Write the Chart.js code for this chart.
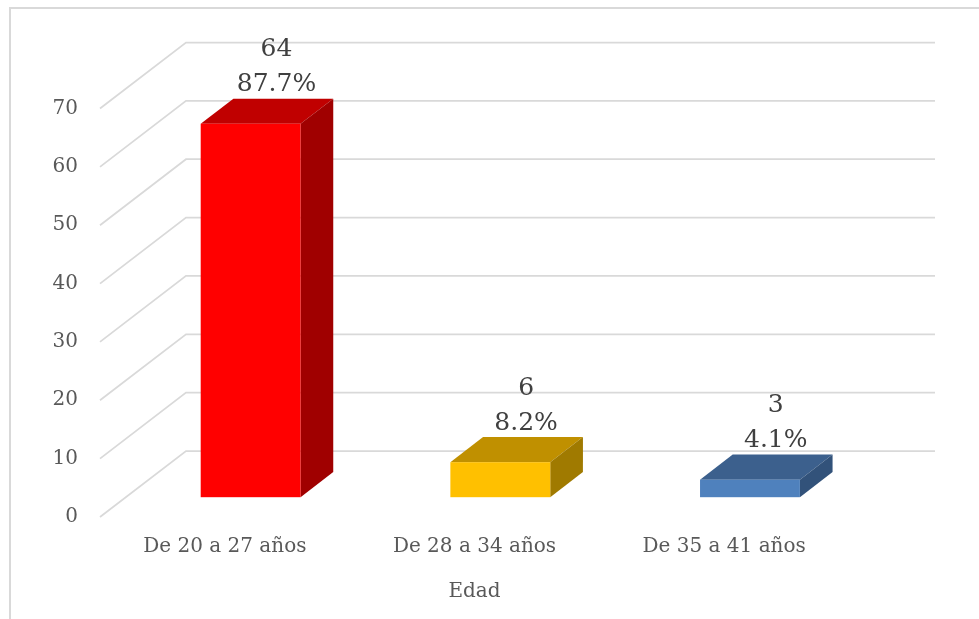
<!DOCTYPE html>
<html lang="es">
<head>
<meta charset="utf-8">
<title>Edad</title>
<script src="https://cdn.jsdelivr.net/npm/chart.js@4.4.1/dist/chart.umd.min.js"></script>
<style>
    html, body { margin: 0; padding: 0; background: #fff; }
    #wrap { width: 979px; height: 619px; position: relative; }
</style>
</head>
<body>
<div id="wrap"><canvas id="edadChart"></canvas></div>
<script>
// Chart data
const categories = ['De 20 a 27 años', 'De 28 a 34 años', 'De 35 a 41 años'];
const counts = [64, 6, 3];
const percentLabels = ['87.7%', '8.2%', '4.1%'];
const yTicks = [0, 10, 20, 30, 40, 50, 60, 70];

// Colours per bar face
const frontColors = ['#FF0000', '#FFC000', '#4F81BD'];
const topColors = ['#C00000', '#C09000', '#3C608D'];
const sideColors = ['#A00000', '#A07A00', '#32527A'];

const FONT = '"DejaVu Serif", "Liberation Serif", serif';
const GRID_COLOR = '#D9D9D9';

// Oblique depth of the 3D box (full depth), and where the bars sit in it
const DEPTH_X = 86;
const DEPTH_Y = 66;
const BAR_FRONT = 0.30;
const BAR_BACK = 0.68;

/**
 * Draws the outer frame, the side wall and back wall gridlines.
 */
const wallsPlugin = {
    id: 'walls',
    beforeDatasetsDraw(chart) {
        const { ctx, chartArea, scales } = chart;
        const yScale = scales.y;

        ctx.save();
        ctx.strokeStyle = GRID_COLOR;
        ctx.lineWidth = 2;

        // frame (cropped on the right and bottom in the original)
        ctx.beginPath();
        ctx.moveTo(10, chart.height + 2);
        ctx.lineTo(10, 8);
        ctx.lineTo(chart.width + 2, 8);
        ctx.stroke();

        ctx.lineWidth = 1.75;
        yTicks.forEach(v => {
            const y = yScale.getPixelForValue(v);
            ctx.beginPath();
            ctx.moveTo(chartArea.left, y);
            ctx.lineTo(chartArea.left + DEPTH_X, y - DEPTH_Y);
            ctx.lineTo(chartArea.right + DEPTH_X, y - DEPTH_Y);
            ctx.stroke();
        });
        ctx.restore();
    }
};

/**
 * Draws each bar as a 3D box using the bar elements that Chart.js laid out.
 */
const boxesPlugin = {
    id: 'boxes',
    afterDatasetsDraw(chart) {
        const { ctx } = chart;
        const meta = chart.getDatasetMeta(0);

        ctx.save();
        meta.data.forEach((bar, i) => {
            const half = bar.width / 2;
            const fx = BAR_FRONT * DEPTH_X, fy = BAR_FRONT * DEPTH_Y;
            const dx = (BAR_BACK - BAR_FRONT) * DEPTH_X;
            const dy = (BAR_BACK - BAR_FRONT) * DEPTH_Y;

            const left = bar.x - half + fx;
            const right = bar.x + half + fx;
            const top = bar.y - fy;
            const bottom = bar.base - fy;

            // top face
            ctx.fillStyle = topColors[i];
            ctx.beginPath();
            ctx.moveTo(left, top);
            ctx.lineTo(right, top);
            ctx.lineTo(right + dx, top - dy);
            ctx.lineTo(left + dx, top - dy);
            ctx.closePath();
            ctx.fill();

            // side face
            ctx.fillStyle = sideColors[i];
            ctx.beginPath();
            ctx.moveTo(right, top);
            ctx.lineTo(right + dx, top - dy);
            ctx.lineTo(right + dx, bottom - dy);
            ctx.lineTo(right, bottom);
            ctx.closePath();
            ctx.fill();

            // front face
            ctx.fillStyle = frontColors[i];
            ctx.fillRect(left, top, right - left, bottom - top);
        });
        ctx.restore();
    }
};

/**
 * Writes the count and the percentage above each bar.
 */
const labelsPlugin = {
    id: 'valueLabels',
    afterDraw(chart) {
        const { ctx } = chart;
        const meta = chart.getDatasetMeta(0);

        ctx.save();
        ctx.font = '25px ' + FONT;
        ctx.fillStyle = '#404040';
        ctx.textAlign = 'center';
        ctx.textBaseline = 'middle';
        meta.data.forEach((bar, i) => {
            const x = bar.x + 0.6 * DEPTH_X;
            const y = bar.y - BAR_BACK * DEPTH_Y - 14;
            ctx.fillText(String(counts[i]), x, y - 35);
            ctx.fillText(percentLabels[i], x, y);
        });
        ctx.restore();
    }
};

function initializeChart() {
    const canvas = document.getElementById('edadChart');

    new Chart(canvas, {
        type: 'bar',
        data: {
            labels: categories,
            datasets: [{
                label: 'Edad',
                data: counts,
                backgroundColor: 'rgba(0,0,0,0)',
                borderWidth: 0,
                categoryPercentage: 1,
                barPercentage: 0.4
            }]
        },
        options: {
            responsive: true,
            maintainAspectRatio: false,
            animation: false,
            layout: {
                padding: { left: 52, right: 130, top: 108.5, bottom: 12 }
            },
            plugins: {
                legend: { display: false },
                tooltip: { enabled: false }
            },
            scales: {
                x: {
                    grid: { display: false, drawTicks: false },
                    border: { display: false },
                    ticks: {
                        color: '#595959',
                        font: { family: FONT, size: 20 },
                        padding: 18,
                        maxRotation: 0
                    },
                    title: {
                        display: true,
                        text: 'Edad',
                        color: '#595959',
                        font: { family: FONT, size: 20 },
                        padding: { top: 0, bottom: 3 }
                    },
                    afterFit(scale) { scale.height = 90; }
                },
                y: {
                    min: 0,
                    max: 70,
                    grid: { display: false, drawTicks: false },
                    border: { display: false },
                    ticks: {
                        stepSize: 10,
                        color: '#595959',
                        font: { family: FONT, size: 20 },
                        padding: 22
                    },
                    afterFit(scale) { scale.width = 48; }
                }
            }
        },
        plugins: [wallsPlugin, boxesPlugin, labelsPlugin]
    });
}

document.addEventListener('DOMContentLoaded', initializeChart);
</script>
</body>
</html>
